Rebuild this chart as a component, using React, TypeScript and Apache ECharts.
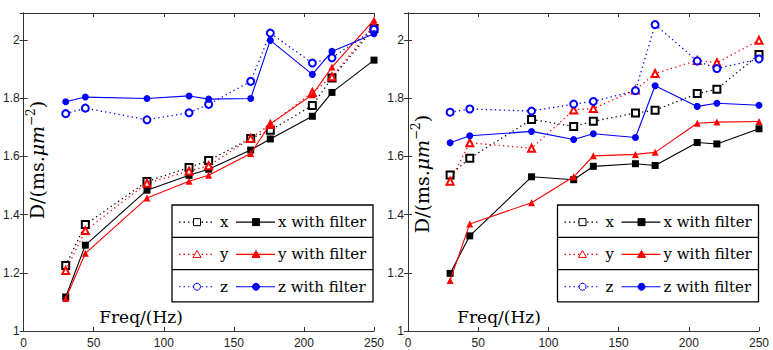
import React, { useEffect, useRef } from "react";
import * as echarts from "echarts";

// ---- data ----
const freqs = [30, 44, 88, 118, 132, 162, 176, 206, 220, 250];

const leftX = [1.225, 1.366, 1.514, 1.562, 1.586, 1.662, 1.69, 1.775, 1.87, 2.04];
const leftXFilt = [1.117, 1.295, 1.484, 1.535, 1.556, 1.622, 1.66, 1.738, 1.82, 1.931];
const leftY = [1.208, 1.345, 1.508, 1.55, 1.568, 1.662, 1.71, 1.82, 1.874, 2.05];
const leftYFilt = [1.112, 1.267, 1.457, 1.515, 1.535, 1.61, 1.712, 1.812, 1.907, 2.069];
const leftZ = [1.747, 1.766, 1.726, 1.75, 1.779, 1.858, 2.024, 1.921, 1.939, 2.037];
const leftZFilt = [1.788, 1.804, 1.799, 1.808, 1.797, 1.799, 1.999, 1.882, 1.961, 2.022];

const rightX = [1.536, 1.594, 1.727, 1.703, 1.721, 1.749, 1.759, 1.816, 1.831, 1.95];
const rightXFilt = [1.198, 1.327, 1.53, 1.52, 1.566, 1.575, 1.569, 1.648, 1.643, 1.695];
const rightY = [1.515, 1.647, 1.628, 1.76, 1.765, 1.828, 1.885, 1.93, 1.922, 1.999];
const rightYFilt = [1.174, 1.368, 1.441, 1.53, 1.602, 1.607, 1.614, 1.714, 1.718, 1.72];
const rightZ = [1.752, 1.763, 1.756, 1.78, 1.789, 1.826, 2.053, 1.928, 1.902, 1.935];
const rightZFilt = [1.647, 1.671, 1.686, 1.658, 1.678, 1.665, 1.843, 1.772, 1.783, 1.776];

const xMin = 0;
const xMax = 250;
const xStep = 50;
const yMin = 1;
const yMax = 2.093;
const yStep = 0.2;

const axisNames = ["x", "y", "z"];
const axisColors = ["#000000", "#ff0000", "#0000ff"];
const axisShapes = ["rect", "triangle", "circle"];
const filterSuffix = " with filter";
const xAxisTitle = "Freq/(Hz)";

// ---- layout ----
const GRIDS = [
  { left: 23, top: 13, width: 351, height: 318 },
  { left: 408, top: 13, width: 351, height: 318 },
];
const LEGEND_POS = [
  { x: 172, y: 205 },
  { x: 557.5, y: 205 },
];
const YLABEL_POS = [
  { x: 36.5, y: 160 },
  { x: 421.5, y: 174 },
];
const XLABEL_POS = [
  { x: 141, y: 317 },
  { x: 499, y: 317 },
];

const SERIF = "DejaVu Serif";
const SANS = "Liberation Sans";

function marker(shape: string, filled: boolean, cx: number, cy: number, color: string) {
  const style = { fill: filled ? color : "#ffffff", stroke: color, lineWidth: 1 };
  if (shape === "rect") {
    return { type: "rect", shape: { x: cx - 3.5, y: cy - 3.5, width: 7, height: 7 }, style };
  }
  if (shape === "circle") {
    return { type: "circle", shape: { cx, cy, r: 3.5 }, style };
  }
  return {
    type: "polygon",
    shape: { points: [[cx, cy - 4], [cx + 4, cy + 3], [cx - 4, cy + 3]] },
    style,
  };
}

function legendGroup(pos: { x: number; y: number }) {
  const W = 201;
  const rowH = 32.3;
  const children: any[] = [];
  children.push({
    type: "rect",
    shape: { x: 0, y: 0, width: W, height: rowH * 3 },
    style: { fill: "#ffffff", stroke: "#000000", lineWidth: 1.3 },
  });
  for (let i = 1; i < 3; i++) {
    children.push({
      type: "line",
      shape: { x1: 0, y1: rowH * i, x2: W, y2: rowH * i },
      style: { stroke: "#000000", lineWidth: 1.3 },
    });
  }
  axisNames.forEach((name, i) => {
    const color = axisColors[i];
    const shape = axisShapes[i];
    const cy = rowH * i + rowH / 2 + 1;
    children.push({
      type: "line",
      shape: { x1: 7, y1: cy, x2: 41, y2: cy },
      style: { stroke: color, lineWidth: 1.2, lineDash: [1.5, 3] },
    });
    children.push(marker(shape, false, 25, cy, color));
    children.push({
      type: "text",
      x: 48,
      y: cy,
      style: { text: name, fontSize: 15, fontFamily: SERIF, fill: "#000", verticalAlign: "middle", align: "left" },
    });
    children.push({
      type: "line",
      shape: { x1: 64, y1: cy, x2: 103, y2: cy },
      style: { stroke: color, lineWidth: 1.2 },
    });
    children.push(marker(shape, true, 84, cy, color));
    children.push({
      type: "text",
      x: 106,
      y: cy,
      style: {
        text: name + filterSuffix,
        fontSize: 15,
        fontFamily: SERIF,
        fill: "#000",
        verticalAlign: "middle",
        align: "left",
      },
    });
  });
  return { type: "group", x: pos.x, y: pos.y, z: 100, children };
}

function yLabel(pos: { x: number; y: number }) {
  return {
    type: "text",
    x: pos.x,
    y: pos.y,
    rotation: Math.PI / 2,
    z: 100,
    style: {
      text: "{a|D/(ms.}{i|μm}{s|−2}{a|)}",
      align: "center",
      verticalAlign: "middle",
      fill: "#000",
      rich: {
        a: { fontSize: 19, fontFamily: SERIF, fill: "#000", lineHeight: 23 },
        i: { fontSize: 19, fontFamily: SERIF, fontStyle: "italic", fill: "#000", lineHeight: 23 },
        s: { fontSize: 12, fontFamily: SERIF, fill: "#000", verticalAlign: "top", lineHeight: 13 },
      },
    },
  };
}

function xLabel(pos: { x: number; y: number }) {
  return {
    type: "text",
    x: pos.x,
    y: pos.y,
    z: 100,
    style: {
      text: xAxisTitle,
      fontSize: 17,
      fontFamily: SERIF,
      fill: "#000",
      align: "center",
      verticalAlign: "middle",
    },
  };
}

function buildOption() {
  const tickStyle = { show: true, inside: true, length: 4, lineStyle: { color: "#333", width: 1 } };
  const lineAx = { show: true, lineStyle: { color: "#333", width: 1 } };
  const xAxes: any[] = [];
  const yAxes: any[] = [];
  GRIDS.forEach((_, g) => {
    xAxes.push({
      type: "value",
      gridIndex: g,
      position: "bottom",
      min: xMin,
      max: xMax,
      interval: xStep,
      axisLine: lineAx,
      axisTick: tickStyle,
      splitLine: { show: false },
      axisLabel: { show: true, margin: 6, fontSize: 12, fontFamily: SANS, color: "#222" },
    });
    xAxes.push({
      type: "value",
      gridIndex: g,
      position: "top",
      min: xMin,
      max: xMax,
      interval: xStep,
      axisLine: lineAx,
      axisTick: tickStyle,
      splitLine: { show: false },
      axisLabel: { show: false },
    });
    yAxes.push({
      type: "value",
      gridIndex: g,
      position: "left",
      min: yMin,
      max: yMax,
      interval: yStep,
      axisLine: lineAx,
      axisTick: tickStyle,
      splitLine: { show: false },
      axisLabel: {
        show: true,
        margin: 4,
        fontSize: 12,
        fontFamily: SANS,
        color: "#222",
        showMaxLabel: false,
        formatter: (v: number) => String(Math.round(v * 10) / 10),
      },
    });
    yAxes.push({
      type: "value",
      gridIndex: g,
      position: "right",
      min: yMin,
      max: yMax,
      interval: yStep,
      axisLine: lineAx,
      axisTick: tickStyle,
      splitLine: { show: false },
      axisLabel: { show: false },
    });
  });

  const panels = [
    [leftX, leftXFilt, leftY, leftYFilt, leftZ, leftZFilt],
    [rightX, rightXFilt, rightY, rightYFilt, rightZ, rightZFilt],
  ];
  const series: any[] = [];
  panels.forEach((sets, g) => {
    sets.forEach((vals, k) => {
      const ai = Math.floor(k / 2);
      const filt = k % 2 === 1;
      const color = axisColors[ai];
      const shape = axisShapes[ai];
      series.push({
        type: "line",
        name: axisNames[ai] + (filt ? filterSuffix : ""),
        xAxisIndex: g * 2,
        yAxisIndex: g * 2,
        data: freqs.map((f, i) => [f, vals[i]]),
        symbol: filt ? shape : "empty" + shape.charAt(0).toUpperCase() + shape.slice(1),
        symbolSize: 7,
        showAllSymbol: true,
        clip: false,
        z: 2 + k,
        lineStyle: filt
          ? { color, width: 1.1, type: "solid" }
          : { color, width: 1.3, type: [1.3, 3.2] },
        itemStyle: { color, borderColor: color, borderWidth: filt ? 0 : 1 },
        emphasis: { disabled: true },
      });
    });
  });

  const graphics: any[] = [];
  GRIDS.forEach((_, g) => {
    graphics.push(legendGroup(LEGEND_POS[g]));
    graphics.push(yLabel(YLABEL_POS[g]));
    graphics.push(xLabel(XLABEL_POS[g]));
  });

  return {
    animation: false,
    backgroundColor: "#ffffff",
    grid: GRIDS.map((gr) => ({ ...gr, containLabel: false, show: false })),
    xAxis: xAxes,
    yAxis: yAxes,
    series,
    graphic: graphics,
  };
}

export default function App() {
  const ref = useRef<HTMLDivElement>(null);
  useEffect(() => {
    if (!ref.current) return;
    const chart = echarts.init(ref.current, undefined, { renderer: "svg" });
    chart.setOption(buildOption() as any);
    return () => chart.dispose();
  }, []);
  return (
    <div
      ref={ref}
      style={{ position: "fixed", left: 0, top: 0, width: 773, height: 350, background: "#fff" }}
    />
  );
}
